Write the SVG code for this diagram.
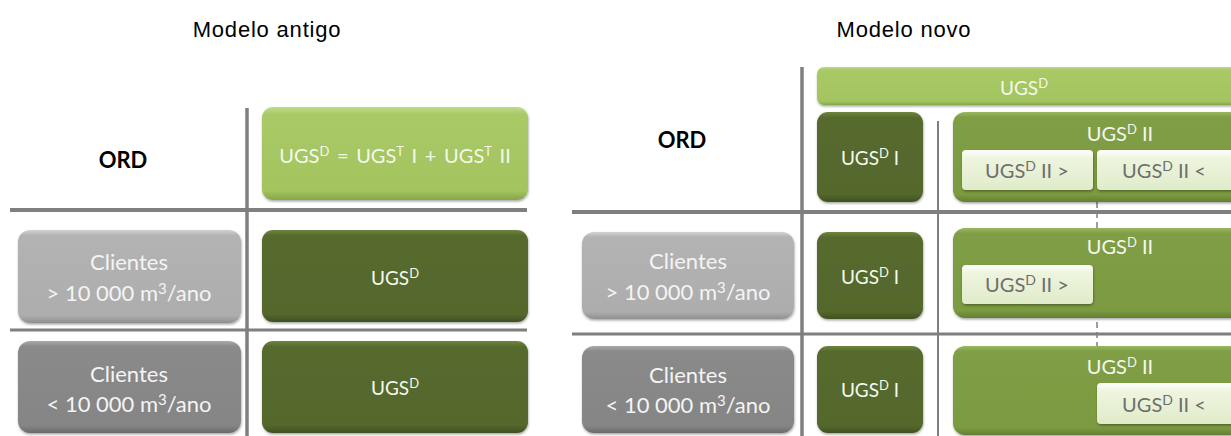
<svg xmlns="http://www.w3.org/2000/svg" width="1231" height="436" viewBox="0 0 1231 436">
  <style>
    .ttl { font-family: "Liberation Sans", Arial, sans-serif; font-size: 22px; letter-spacing: 0.8px; fill: #000; text-anchor: middle; }
    .c { font-family: Lato, "Open Sans", sans-serif; text-anchor: middle; }
    .ord { font-weight: bold; font-size: 22px; fill: #000; }
    .bx { font-size: 19px; fill: #f4f8ec; }
    .bt { font-size: 20px; fill: #f4f8ec; }
    .cl { font-size: 22px; fill: #f4f4f4; }
    .sb { font-size: 20px; fill: #6e6e6e; }
    .grid { stroke: #7f7f7f; fill: none; }
    .box { filter: url(#sh); }
  </style>
  <defs>
    <filter id="sh" x="-5%" y="-5%" width="110%" height="120%">
      <feDropShadow dx="0.5" dy="1.5" stdDeviation="1" flood-color="#000" flood-opacity="0.35"/>
    </filter>
    <linearGradient id="gLight" x1="0" y1="0" x2="0" y2="1">
      <stop offset="0" stop-color="#c0db8a"/>
      <stop offset="0.08" stop-color="#a8c966"/>
      <stop offset="0.9" stop-color="#a3c45f"/>
      <stop offset="1" stop-color="#86a64a"/>
    </linearGradient>
    <linearGradient id="gMid" x1="0" y1="0" x2="0" y2="1">
      <stop offset="0" stop-color="#9ab85f"/>
      <stop offset="0.06" stop-color="#809e45"/>
      <stop offset="0.92" stop-color="#7c9a41"/>
      <stop offset="1" stop-color="#637f31"/>
    </linearGradient>
    <linearGradient id="gDark" x1="0" y1="0" x2="0" y2="1">
      <stop offset="0" stop-color="#6f8540"/>
      <stop offset="0.06" stop-color="#576b2f"/>
      <stop offset="0.92" stop-color="#53672c"/>
      <stop offset="1" stop-color="#3f5020"/>
    </linearGradient>
    <linearGradient id="gGray1" x1="0" y1="0" x2="0" y2="1">
      <stop offset="0" stop-color="#d2d2d2"/>
      <stop offset="0.06" stop-color="#b3b3b3"/>
      <stop offset="0.92" stop-color="#adadad"/>
      <stop offset="1" stop-color="#8f8f8f"/>
    </linearGradient>
    <linearGradient id="gGray2" x1="0" y1="0" x2="0" y2="1">
      <stop offset="0" stop-color="#aaaaaa"/>
      <stop offset="0.06" stop-color="#8a8a8a"/>
      <stop offset="0.92" stop-color="#858585"/>
      <stop offset="1" stop-color="#6a6a6a"/>
    </linearGradient>
    <linearGradient id="gSub" x1="0" y1="0" x2="0" y2="1">
      <stop offset="0" stop-color="#ffffff"/>
      <stop offset="0.2" stop-color="#eef5de"/>
      <stop offset="1" stop-color="#e0ebca"/>
    </linearGradient>
  </defs>

  <rect width="1231" height="436" fill="#fff"/>

  <g id="titles">
    <text class="ttl" x="267" y="37">Modelo antigo</text>
    <text class="ttl" x="904" y="37">Modelo novo</text>
  </g>

  <g id="connectors">
    <line class="grid" x1="247" y1="108" x2="247" y2="436" stroke-width="3.5"/>
    <line class="grid" x1="10" y1="210" x2="527" y2="210" stroke-width="4"/>
    <line class="grid" x1="10" y1="330" x2="527" y2="330" stroke-width="3"/>
    <line class="grid" x1="802" y1="67" x2="802" y2="436" stroke-width="3.5"/>
    <line class="grid" x1="572" y1="212" x2="1231" y2="212" stroke-width="4"/>
    <line class="grid" x1="572" y1="334" x2="1231" y2="334" stroke-width="3"/>
    <line class="grid" x1="938" y1="121" x2="938" y2="436" stroke-width="2"/>
    <line class="grid" x1="1097" y1="202" x2="1097" y2="346" stroke-width="1.5" stroke-dasharray="6 4"/>
  </g>

  <!-- Modelo antigo -->
  <g id="ord-old">
    <text class="c ord" x="123" y="168">ORD</text>
  </g>
  <g id="ugs-eq">
    <rect class="box" x="262" y="107" width="266" height="93" rx="11" fill="url(#gLight)"/>
    <text class="c bt" x="395" y="163" word-spacing="2.5">UGS<tspan font-size="13" dy="-7">D</tspan><tspan dy="7"> = UGS</tspan><tspan font-size="13" dy="-7">T</tspan><tspan dy="7"> I + UGS</tspan><tspan font-size="13" dy="-7">T</tspan><tspan dy="7"> II</tspan></text>
  </g>
  <g id="cli-gt-old">
    <rect class="box" x="18" y="230" width="223" height="93" rx="12" fill="url(#gGray1)"/>
    <text class="c cl" x="129" y="270">Clientes</text>
    <text class="c cl" x="129" y="301">&gt; 10 000 m<tspan font-size="15" dy="-7">3</tspan><tspan dy="7">/ano</tspan></text>
  </g>
  <g id="ugs-d-old-1">
    <rect class="box" x="262" y="230" width="266" height="92" rx="11" fill="url(#gDark)"/>
    <text class="c bx" x="395" y="285">UGS<tspan font-size="13" dy="-7">D</tspan></text>
  </g>
  <g id="cli-lt-old">
    <rect class="box" x="18" y="341" width="223" height="92" rx="12" fill="url(#gGray2)"/>
    <text class="c cl" x="129" y="382">Clientes</text>
    <text class="c cl" x="129" y="412">&lt; 10 000 m<tspan font-size="15" dy="-7">3</tspan><tspan dy="7">/ano</tspan></text>
  </g>
  <g id="ugs-d-old-2">
    <rect class="box" x="262" y="341" width="266" height="92" rx="11" fill="url(#gDark)"/>
    <text class="c bx" x="395" y="395">UGS<tspan font-size="13" dy="-7">D</tspan></text>
  </g>

  <!-- Modelo novo -->
  <g id="ugs-top">
    <rect class="box" x="817" y="67" width="424" height="38" rx="7" fill="url(#gLight)"/>
    <text class="c bx" x="1024" y="95">UGS<tspan font-size="13" dy="-7">D</tspan></text>
  </g>
  <g id="ord-new">
    <text class="c ord" x="682" y="148">ORD</text>
  </g>
  <g id="ugs-i-1">
    <rect class="box" x="817" y="112" width="106" height="90" rx="11" fill="url(#gDark)"/>
    <text class="c bx" x="870" y="165">UGS<tspan font-size="13" dy="-7">D</tspan><tspan dy="7"> I</tspan></text>
  </g>
  <g id="ugs-ii-1">
    <rect class="box" x="953" y="112" width="300" height="90" rx="12" fill="url(#gMid)"/>
    <text class="c bt" x="1120" y="141">UGS<tspan font-size="13" dy="-7">D</tspan><tspan dy="7"> II</tspan></text>
    <rect class="box" x="962" y="150" width="131" height="40" rx="4" fill="url(#gSub)"/>
    <text class="c sb" x="1027" y="178">UGS<tspan font-size="14" dy="-7">D</tspan><tspan dy="7"> II &gt;</tspan></text>
    <rect class="box" x="1097" y="150" width="140" height="40" rx="4" fill="url(#gSub)"/>
    <text class="c sb" x="1164" y="178">UGS<tspan font-size="14" dy="-7">D</tspan><tspan dy="7"> II &lt;</tspan></text>
  </g>
  <g id="cli-gt-new">
    <rect class="box" x="582" y="232" width="212" height="87" rx="12" fill="url(#gGray1)"/>
    <text class="c cl" x="688" y="269">Clientes</text>
    <text class="c cl" x="688" y="300">&gt; 10 000 m<tspan font-size="15" dy="-7">3</tspan><tspan dy="7">/ano</tspan></text>
  </g>
  <g id="ugs-i-2">
    <rect class="box" x="817" y="232" width="106" height="87" rx="11" fill="url(#gDark)"/>
    <text class="c bx" x="870" y="284">UGS<tspan font-size="13" dy="-7">D</tspan><tspan dy="7"> I</tspan></text>
  </g>
  <g id="ugs-ii-2">
    <rect class="box" x="953" y="228" width="300" height="90" rx="12" fill="url(#gMid)"/>
    <text class="c bt" x="1120" y="254">UGS<tspan font-size="13" dy="-7">D</tspan><tspan dy="7"> II</tspan></text>
    <rect class="box" x="962" y="265" width="131" height="39" rx="4" fill="url(#gSub)"/>
    <text class="c sb" x="1027" y="292">UGS<tspan font-size="14" dy="-7">D</tspan><tspan dy="7"> II &gt;</tspan></text>
  </g>
  <g id="cli-lt-new">
    <rect class="box" x="582" y="346" width="212" height="87" rx="12" fill="url(#gGray2)"/>
    <text class="c cl" x="688" y="383">Clientes</text>
    <text class="c cl" x="688" y="413">&lt; 10 000 m<tspan font-size="15" dy="-7">3</tspan><tspan dy="7">/ano</tspan></text>
  </g>
  <g id="ugs-i-3">
    <rect class="box" x="817" y="346" width="106" height="87" rx="11" fill="url(#gDark)"/>
    <text class="c bx" x="870" y="397">UGS<tspan font-size="13" dy="-7">D</tspan><tspan dy="7"> I</tspan></text>
  </g>
  <g id="ugs-ii-3">
    <rect class="box" x="953" y="346" width="300" height="89" rx="12" fill="url(#gMid)"/>
    <text class="c bt" x="1120" y="374">UGS<tspan font-size="13" dy="-7">D</tspan><tspan dy="7"> II</tspan></text>
    <rect class="box" x="1097" y="383" width="140" height="41" rx="4" fill="url(#gSub)"/>
    <text class="c sb" x="1164" y="412">UGS<tspan font-size="14" dy="-7">D</tspan><tspan dy="7"> II &lt;</tspan></text>
  </g>
</svg>
